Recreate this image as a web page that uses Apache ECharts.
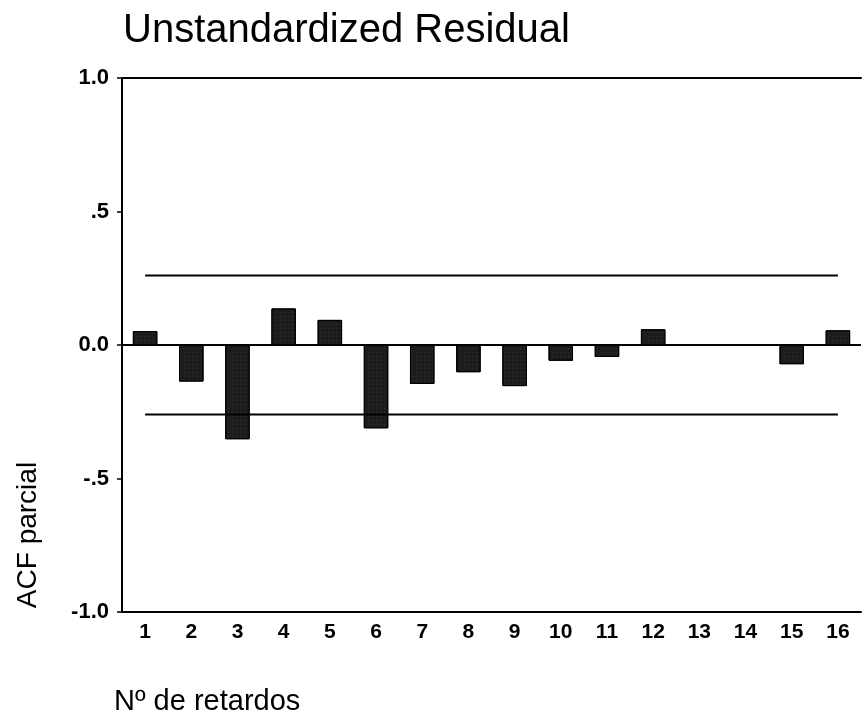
<!DOCTYPE html>
<html>
<head>
<meta charset="utf-8">
<script src="https://cdn.jsdelivr.net/npm/echarts@6/dist/echarts.min.js"></script>
<style>
  html, body { margin: 0; padding: 0; background: #fff; }
  #chart { width: 865px; height: 715px; }
</style>
</head>
<body>
<div id="chart"></div>
<script>
const lags = ['1','2','3','4','5','6','7','8','9','10','11','12','13','14','15','16'];
const pacf = [0.052, -0.137, -0.353, 0.137, 0.094, -0.312, -0.146, -0.102, -0.154, -0.059, -0.045, 0.059, 0, 0, -0.072, 0.055];
const upperCL = [0.26,0.26,0.26,0.26,0.26,0.26,0.26,0.26,0.26,0.26,0.26,0.26,0.26,0.26,0.26,0.26];
const lowerCL = [-0.26,-0.26,-0.26,-0.26,-0.26,-0.26,-0.26,-0.26,-0.26,-0.26,-0.26,-0.26,-0.26,-0.26,-0.26,-0.26];
const yTickValues = [-1, -0.5, 0, 0.5, 1];
const yTickLabels = ['-1.0', '-.5', '0.0', '.5', '1.0'];
const titleText = 'Unstandardized Residual';
const yName = 'ACF parcial';
const xName = 'Nº de retardos';

const FONT = '"Liberation Sans", Arial, Helvetica, sans-serif';
const chart = echarts.init(document.getElementById('chart'));
chart.setOption({
  animation: false,
  backgroundColor: '#fff',
  grid: { left: 122, right: 4, top: 78, bottom: 103 },
  graphic: [
    { type: 'text', left: 123, top: 11, style: { text: titleText, font: '40px ' + FONT, fill: '#000' } },
    { type: 'text', x: 28, y: 535, rotation: Math.PI / 2,
      style: { text: yName, font: '28px ' + FONT, fill: '#000', align: 'center', verticalAlign: 'middle' } },
    { type: 'text', x: 114, y: 702,
      style: { text: xName, font: '29px ' + FONT, fill: '#000', align: 'left', verticalAlign: 'middle' } }
  ],
  xAxis: [
    {
      type: 'category', data: lags, position: 'bottom', boundaryGap: true,
      axisLine: { onZero: false, lineStyle: { color: '#000', width: 2 } },
      axisTick: { alignWithLabel: true, length: 4, lineStyle: { color: '#000', width: 1.5 } },
      axisLabel: { color: '#000', fontSize: 21, fontWeight: 'bold', fontFamily: 'Liberation Sans', margin: 10 },
      splitLine: { show: false }
    },
    {
      type: 'category', data: lags, position: 'top', boundaryGap: true,
      axisLine: { onZero: false, lineStyle: { color: '#000', width: 2 } },
      axisTick: { show: false }, axisLabel: { show: false }, splitLine: { show: false }
    }
  ],
  yAxis: {
    type: 'value', min: -1, max: 1, interval: 0.5,
    axisLine: { show: true, lineStyle: { color: '#000', width: 2 } },
    axisTick: { show: true, length: 5, lineStyle: { color: '#000', width: 1.5 } },
    axisLabel: {
      color: '#000', fontSize: 22, fontWeight: 'bold', fontFamily: 'Liberation Sans', margin: 13,
      formatter: function (v) {
        const i = yTickValues.findIndex(t => Math.abs(t - v) < 1e-9);
        return i >= 0 ? yTickLabels[i] : '';
      }
    },
    splitLine: { show: false }
  },
  series: [
    {
      type: 'bar', data: pacf, barWidth: '53%', xAxisIndex: 0,
      itemStyle: {
        color: '#1c1c1c', borderColor: '#000', borderWidth: 1,
        decal: { symbol: 'rect', symbolSize: 0.5, color: 'rgba(190,190,190,0.55)', dashArrayX: [1, 3], dashArrayY: [1, 3] }
      },
      markLine: {
        silent: true, symbol: 'none', label: { show: false },
        lineStyle: { color: '#000', width: 2, type: 'solid' },
        data: [{ yAxis: 0 }]
      }
    },
    {
      type: 'line', data: upperCL, xAxisIndex: 0, symbol: 'none',
      lineStyle: { color: '#000', width: 2 }
    },
    {
      type: 'line', data: lowerCL, xAxisIndex: 0, symbol: 'none',
      lineStyle: { color: '#000', width: 2 }
    }
  ]
});
</script>
</body>
</html>
